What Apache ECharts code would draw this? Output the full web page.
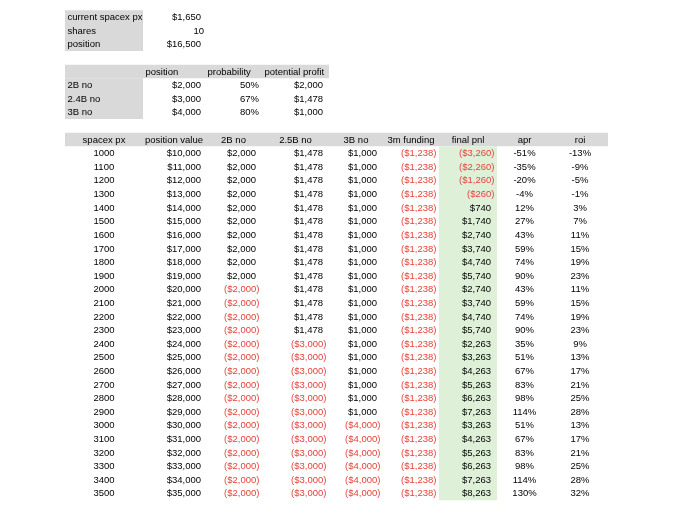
<!DOCTYPE html>
<html>
<head>
<meta charset="utf-8">
<script src="https://cdn.jsdelivr.net/npm/echarts@6/dist/echarts.min.js"></script>
<style>
  html, body { margin: 0; padding: 0; background: #fff; }
  #main { width: 680px; height: 518px; }
</style>
</head>
<body>
<div id="main"></div>
<script>
// top block
const topLabels = ['current spacex px', 'shares', 'position'];
const topValues = ['$1,650', '10', '$16,500'];

// scenario table
const scenarioHeaders = ['position', 'probability', 'potential profit'];
const scenarioNames = ['2B no', '2.4B no', '3B no'];
const scenarioPosition = [2000, 3000, 4000];
const scenarioProb = [50, 67, 80];
const scenarioProfit = [2000, 1478, 1000];

// main table
const mainHeaders = ['spacex px', 'position value', '2B no', '2.5B no', '3B no', '3m funding', 'final pnl', 'apr', 'roi'];
const spacexPx = [1000, 1100, 1200, 1300, 1400, 1500, 1600, 1700, 1800, 1900, 2000, 2100, 2200,
  2300, 2400, 2500, 2600, 2700, 2800, 2900, 3000, 3100, 3200, 3300, 3400, 3500];
const positionValue = [10000, 11000, 12000, 13000, 14000, 15000, 16000, 17000, 18000, 19000, 20000, 21000, 22000,
  23000, 24000, 25000, 26000, 27000, 28000, 29000, 30000, 31000, 32000, 33000, 34000, 35000];
const no2B = [2000, 2000, 2000, 2000, 2000, 2000, 2000, 2000, 2000, 2000, -2000, -2000, -2000,
  -2000, -2000, -2000, -2000, -2000, -2000, -2000, -2000, -2000, -2000, -2000, -2000, -2000];
const no25B = [1478, 1478, 1478, 1478, 1478, 1478, 1478, 1478, 1478, 1478, 1478, 1478, 1478,
  1478, -3000, -3000, -3000, -3000, -3000, -3000, -3000, -3000, -3000, -3000, -3000, -3000];
const no3B = [1000, 1000, 1000, 1000, 1000, 1000, 1000, 1000, 1000, 1000, 1000, 1000, 1000,
  1000, 1000, 1000, 1000, 1000, 1000, 1000, -4000, -4000, -4000, -4000, -4000, -4000];
const funding = [-1238, -1238, -1238, -1238, -1238, -1238, -1238, -1238, -1238, -1238, -1238, -1238, -1238,
  -1238, -1238, -1238, -1238, -1238, -1238, -1238, -1238, -1238, -1238, -1238, -1238, -1238];
const finalPnl = [-3260, -2260, -1260, -260, 740, 1740, 2740, 3740, 4740, 5740, 2740, 3740, 4740,
  5740, 2263, 3263, 4263, 5263, 6263, 7263, 3263, 4263, 5263, 6263, 7263, 8263];
const apr = [-51, -35, -20, -4, 12, 27, 43, 59, 74, 90, 43, 59, 74,
  90, 35, 51, 67, 83, 98, 114, 51, 67, 83, 98, 114, 130];
const roi = [-13, -9, -5, -1, 3, 7, 11, 15, 19, 23, 11, 15, 19,
  23, 9, 13, 17, 21, 25, 28, 13, 17, 21, 25, 28, 32];

// sheet layout (column edges in px, sheet rows)
const colEdges = [0, 65, 143, 205, 262, 329, 383, 439, 497, 552, 608, 680];
const sheetRows = [];
for (let i = 1; i <= 37; i++) sheetRows.push(String(i));

const BLACK = '#000';
const RED = '#e5423a';
const GRAY = '#d9d9d9';
const GREEN = '#def0d8';

function num(v) { return Math.abs(v).toLocaleString('en-US'); }
function money(v) { return v < 0 ? '($' + num(v) + ')' : '$' + num(v); }

let cells = [];
function cell(col, row, text, align, pad, color) {
  cells.push({ col: col, row: row, text: text, align: align || 'right', pad: pad == null ? 4 : pad, color: color || BLACK });
}
// accounting style: positive leaves room for ")"
function acct(col, row, v) {
  if (v < 0) cell(col, row, money(v), 'right', 2.5, RED);
  else cell(col, row, money(v), 'right', 6, BLACK);
}

topLabels.forEach((t, i) => {
  cell(1, i, t, 'left', 2.5);
  cell(2, i, topValues[i], 'right', i === 1 ? 1 : 4);
});

scenarioHeaders.forEach((t, i) => cell(2 + i, 4, t, 'left', 2.5));
scenarioNames.forEach((t, i) => {
  const r = 5 + i;
  cell(1, r, t, 'left', 2.5);
  cell(2, r, money(scenarioPosition[i]), 'right', 4);
  cell(3, r, scenarioProb[i] + '%', 'right', 3);
  acct(4, r, scenarioProfit[i]);
});

mainHeaders.forEach((t, i) => cell(1 + i, 9, t, 'center', 0));
spacexPx.forEach((px, i) => {
  const r = 10 + i;
  cell(1, r, String(px), 'center', 0);
  cell(2, r, money(positionValue[i]), 'right', 4);
  acct(3, r, no2B[i]);
  acct(4, r, no25B[i]);
  acct(5, r, no3B[i]);
  acct(6, r, funding[i]);
  acct(7, r, finalPnl[i]);
  cell(8, r, apr[i] + '%', 'center', 0);
  cell(9, r, roi[i] + '%', 'center', 0);
});

// fills: [col0, col1 (exclusive), row0, row1 (inclusive), color]
const fills = [
  [1, 2, 0, 2, GRAY],
  [1, 5, 4, 4, GRAY],
  [1, 2, 5, 7, GRAY],
  [1, 10, 9, 9, GRAY],
  [7, 8, 10, 35, GREEN]
];

const chart = echarts.init(document.getElementById('main'));
chart.setOption({
  animation: false,
  grid: { left: 0, width: 680, top: 10.2, height: 13.61 * 37 },
  xAxis: { type: 'value', min: 0, max: 680, show: false },
  yAxis: { type: 'category', data: sheetRows, inverse: true, show: false },
  series: [
    {
      type: 'custom',
      silent: true,
      data: fills.map(f => [colEdges[f[0]], f[2]]),
      renderItem(params, api) {
        const f = fills[params.dataIndex];
        const h = api.size([0, 1])[1];
        const p0 = api.coord([colEdges[f[0]], f[2]]);
        const p1 = api.coord([colEdges[f[1]], f[3]]);
        return {
          type: 'rect',
          shape: { x: p0[0], y: p0[1] - h / 2, width: p1[0] - p0[0], height: p1[1] - p0[1] + h },
          style: { fill: f[4] }
        };
      }
    },
    {
      type: 'custom',
      silent: true,
      data: cells.map(c => [colEdges[c.col], c.row]),
      renderItem(params, api) {
        const c = cells[params.dataIndex];
        const left = api.coord([colEdges[c.col], c.row]);
        const right = api.coord([colEdges[c.col + 1], c.row]);
        let x;
        if (c.align === 'left') x = left[0] + c.pad;
        else if (c.align === 'right') x = right[0] - c.pad;
        else x = (left[0] + right[0]) / 2;
        return {
          type: 'text',
          x: x,
          y: left[1] + 0.5,
          style: {
            text: c.text,
            fill: c.color,
            font: '9.5px "Liberation Sans", Arial, sans-serif',
            align: c.align,
            verticalAlign: 'middle'
          }
        };
      }
    }
  ]
});
</script>
</body>
</html>
